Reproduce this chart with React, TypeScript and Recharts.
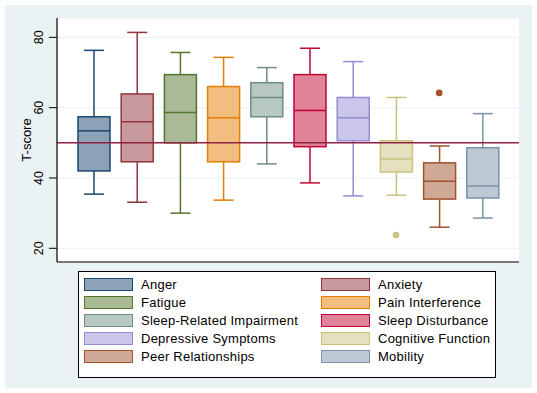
import React from "react";
import {
  ComposedChart,
  Bar,
  Scatter,
  XAxis,
  YAxis,
  CartesianGrid,
  ReferenceLine,
  Legend,
  Cell,
} from "recharts";

const categories = [
  "Anger",
  "Anxiety",
  "Fatigue",
  "Pain Interference",
  "Sleep-Related Impairment",
  "Sleep Disturbance",
  "Depressive Symptoms",
  "Cognitive Function",
  "Peer Relationships",
  "Mobility",
];
const whiskerLow = [35.4, 33.1, 30.0, 33.7, 44.0, 38.6, 34.9, 35.1, 26.0, 28.6];
const q1 = [42.0, 44.6, 50.0, 44.6, 57.4, 48.9, 50.6, 41.7, 34.0, 34.3];
const median = [53.4, 56.0, 58.6, 57.1, 62.9, 59.2, 57.1, 45.4, 39.1, 37.7];
const q3 = [57.4, 63.9, 69.4, 66.0, 67.1, 69.4, 62.9, 50.6, 44.3, 48.6];
const whiskerHigh = [76.3, 81.4, 75.7, 74.3, 71.4, 76.9, 73.1, 62.9, 49.1, 58.3];
const outliers: (number | null)[] = [null, null, null, null, null, null, null, 23.8, 64.2, null];
const strokeColors = [
  "#1a476f",
  "#90353b",
  "#55752f",
  "#e37e00",
  "#6e8e84",
  "#c10534",
  "#938dd2",
  "#cac27e",
  "#a0522d",
  "#7b92a8",
];
const fillColors = [
  "#8ca3b7",
  "#c89a9d",
  "#aaba97",
  "#f1be80",
  "#b7c7c2",
  "#e0829a",
  "#c9c6e9",
  "#e5e1bf",
  "#d0a996",
  "#bdc9d4",
];
const yTicks = [20, 40, 60, 80];
const referenceValue = 50;

const data = categories.map((name, i) => ({
  name,
  box: [q1[i], q3[i]],
  low: whiskerLow[i],
  q1: q1[i],
  median: median[i],
  q3: q3[i],
  high: whiskerHigh[i],
  outlier: outliers[i],
  idx: i,
}));

const FONT = "Arial, 'Liberation Sans', sans-serif";

const BoxShape = (props: any) => {
  const { x, y, width, height, payload } = props;
  const i = payload.idx;
  const ppu = height / (payload.q3 - payload.q1);
  const toY = (v: number) => y + (payload.q3 - v) * ppu;
  const cx = x + width / 2;
  const capHalf = 10;
  const stroke = strokeColors[i];
  const sw = 1.5;
  return (
    <g>
      <line x1={cx} x2={cx} y1={toY(payload.high)} y2={y} stroke={stroke} strokeWidth={sw} />
      <line x1={cx} x2={cx} y1={y + height} y2={toY(payload.low)} stroke={stroke} strokeWidth={sw} />
      <line x1={cx - capHalf} x2={cx + capHalf} y1={toY(payload.high)} y2={toY(payload.high)} stroke={stroke} strokeWidth={sw} />
      <line x1={cx - capHalf} x2={cx + capHalf} y1={toY(payload.low)} y2={toY(payload.low)} stroke={stroke} strokeWidth={sw} />
      <rect x={x} y={y} width={width} height={height} fill={fillColors[i]} stroke={stroke} strokeWidth={sw} />
      <line x1={x} x2={x + width} y1={toY(payload.median)} y2={toY(payload.median)} stroke={stroke} strokeWidth={sw} />
    </g>
  );
};

const OutlierDot = (props: any) => {
  const { cx, cy, payload } = props;
  if (payload == null || payload.outlier == null || cx == null || cy == null) return null;
  return <circle cx={cx} cy={cy} r={3.3} fill={strokeColors[payload.idx]} />;
};

const YTick = (props: any) => {
  const { x, y, payload } = props;
  return (
    <text
      x={x - 4}
      y={y}
      transform={`rotate(-90, ${x - 4}, ${y})`}
      textAnchor="middle"
      fontFamily={FONT}
      fontSize={12.5}
      fill="#000"
    >
      {payload.value}
    </text>
  );
};

const LegendContent = () => (
  <div
    style={{
      width: 418,
      height: 107,
      boxSizing: "border-box",
      border: "1px solid #000",
      background: "#fff",
      paddingTop: 4,
      display: "grid",
      gridTemplateColumns: "237px 1fr",
      gridAutoRows: "17.9px",
      alignContent: "start",
    }}
  >
    {categories.map((c, i) => (
      <div
        key={c}
        style={{
          display: "flex",
          alignItems: "center",
          height: 17.9,
          paddingLeft: 5,
          fontFamily: FONT,
          fontSize: 13,
          letterSpacing: 0.25,
          color: "#000",
          whiteSpace: "nowrap",
        }}
      >
        <span
          style={{
            display: "inline-block",
            width: 47,
            height: 11,
            background: fillColors[i],
            border: `1.5px solid ${strokeColors[i]}`,
            marginRight: 8,
            flexShrink: 0,
          }}
        />
        {c}
      </div>
    ))}
  </div>
);

export default function App() {
  return (
    <div
      style={{
        position: "absolute",
        left: 0,
        top: 0,
        width: 537,
        height: 393,
        background: "#fff",
      }}
    >
      <div
        style={{
          position: "absolute",
          left: 5,
          top: 5,
          width: 527,
          height: 383,
          background: "#eaf2f3",
        }}
      />
      <div style={{ position: "absolute", left: 0, top: 0 }}>
        <ComposedChart
          width={537}
          height={393}
          data={data}
          margin={{ top: 18, right: 18, left: 7, bottom: 130 }}
        >
          <CartesianGrid vertical={false} stroke="#eaf2f3" fill="#fff" />
          <XAxis
            dataKey="name"
            type="category"
            padding={{ left: 15, right: 15 }}
            tick={false}
            tickLine={false}
            height={1}
            axisLine={{ stroke: "#000", strokeWidth: 1.2 }}
          />
          <YAxis
            type="number"
            domain={[16.1, 85.5]}
            ticks={yTicks}
            allowDataOverflow
            width={50}
            tickSize={8}
            tickLine={{ stroke: "#000" }}
            axisLine={{ stroke: "#000", strokeWidth: 1.2 }}
            tick={<YTick />}
            label={{
              value: "T-score",
              angle: -90,
              position: "insideLeft",
              offset: 19,
              style: { fontFamily: FONT, fontSize: 13, fill: "#000", textAnchor: "middle" },
            }}
          />
          <ReferenceLine y={referenceValue} stroke="#8e2344" strokeWidth={1.5} ifOverflow="visible" />
          <Bar
            dataKey="box"
            barSize={32}
            isAnimationActive={false}
            shape={<BoxShape />}
            legendType="none"
          />
          <Scatter dataKey="outlier" isAnimationActive={false} legendType="none" shape={<OutlierDot />}>
            {data.map((d, i) => (
              <Cell key={i} fill={strokeColors[i]} />
            ))}
          </Scatter>
          <Legend
            layout="horizontal"
            verticalAlign="middle"
            align="center"
            content={<LegendContent />}
            wrapperStyle={{ position: "absolute", left: 78, top: 271, width: 418, height: 107 }}
          />
        </ComposedChart>
      </div>
    </div>
  );
}
